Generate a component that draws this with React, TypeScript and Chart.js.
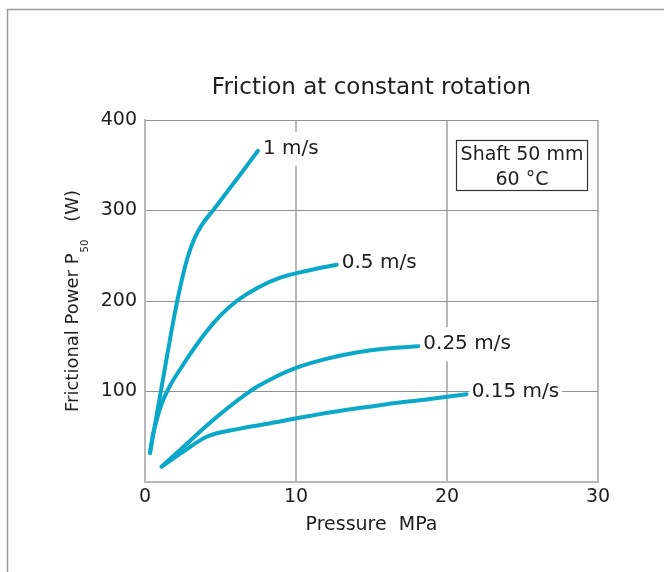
import React, { useEffect, useRef } from "react";
import { Chart, registerables } from "chart.js";

Chart.register(...registerables);

const FONT = '"DejaVu Sans", sans-serif';
const TEXT = "#1e1e1e";
const LINE = "#0aa8c8";

const chartTitle = "Friction at constant rotation";
const xTitle = "Pressure  MPa";
const yTitleMain = "Frictional Power P";
const yTitleSub = "50";
const yTitleUnit = "(W)";
const boxLines = ["Shaft 50 mm", "60 °C"];

const seriesLabels = ["1 m/s", "0.5 m/s", "0.25 m/s", "0.15 m/s"];

const pressure1 = [0.33, 0.7, 1.1, 1.5, 1.9, 2.3, 2.8, 3.3, 3.8, 4.5, 5.5, 6.5, 7.48];
const power1 = [32, 67, 105, 143, 180, 213, 247, 270, 285, 300, 322, 344, 366];

const pressure05 = [0.33, 0.5, 0.75, 1.1, 1.55, 2.5, 3.97, 5.0, 6.07, 7.5, 9.0, 10.9, 12.7];
const power05 = [32, 50, 67, 86, 103, 129, 164, 184, 200, 215, 226, 234, 240];

const pressure025 = [1.1, 2.5, 4.0, 5.5, 6.6, 7.5, 8.5, 10.0, 12.0, 14.0, 16.0, 18.1];
const power025 = [17, 38, 61, 82, 96, 106, 115, 126, 136, 143, 147.5, 150];

const pressure015 = [1.1, 2.54, 4.08, 6.29, 8.0, 10.9, 13.5, 16.0, 18.5, 21.3];
const power015 = [17, 33.5, 50, 59, 64, 73, 80, 86, 91, 97];

const xMin = 0, xMax = 30, xStep = 10;
const yMin = 0, yMax = 400, yStep = 100;

const toPoints = (xs: number[], ys: number[]) => xs.map((x, i) => ({ x, y: ys[i] }));

const annotationPlugin = {
  id: "annotations",
  beforeDraw(chart: any) {
    const ctx = chart.ctx;
    ctx.save();
    ctx.strokeStyle = "#9a9a9a";
    ctx.lineWidth = 1.5;
    ctx.beginPath();
    ctx.moveTo(7.5, chart.height);
    ctx.lineTo(7.5, 9.5);
    ctx.lineTo(chart.width, 9.5);
    ctx.stroke();
    ctx.restore();
  },
  afterDatasetsDraw(chart: any) {
    const ctx = chart.ctx;
    const area = chart.chartArea;
    ctx.save();
    // series labels
    ctx.font = `20px ${FONT}`;
    ctx.textBaseline = "middle";
    ctx.textAlign = "left";
    chart.data.datasets.forEach((ds: any, i: number) => {
      const meta = chart.getDatasetMeta(i);
      const pt = meta.data[meta.data.length - 1];
      const tx = pt.x + 5;
      const ty = pt.y - 2;
      const w = ctx.measureText(ds.label).width;
      ctx.fillStyle = "#ffffff";
      ctx.fillRect(tx - 2, ty - 17, w + 5, 34);
      ctx.fillStyle = TEXT;
      ctx.fillText(ds.label, tx, ty);
    });

    // info box
    const bx = 456.5, by = 140.5, bw = 131, bh = 50;
    ctx.fillStyle = "#ffffff";
    ctx.fillRect(bx, by, bw, bh);
    ctx.strokeStyle = "#333333";
    ctx.lineWidth = 1.2;
    ctx.strokeRect(bx, by, bw, bh);
    ctx.fillStyle = TEXT;
    ctx.font = `19px ${FONT}`;
    ctx.textAlign = "center";
    ctx.textBaseline = "alphabetic";
    ctx.fillText(boxLines[0], bx + bw / 2, 160);
    ctx.fillText(boxLines[1], bx + bw / 2, 185);

    // chart title
    const cx = (area.left + area.right) / 2;
    ctx.font = `23px ${FONT}`;
    ctx.fillText(chartTitle, cx, 94);

    // x axis title
    ctx.font = `19px ${FONT}`;
    ctx.fillText(xTitle, cx, 530);

    // y axis title with subscript
    ctx.translate(78, 412);
    ctx.rotate(-Math.PI / 2);
    ctx.textAlign = "left";
    ctx.font = `18px ${FONT}`;
    ctx.fillText(yTitleMain, 0, 0);
    const w1 = ctx.measureText(yTitleMain).width;
    ctx.font = `10px ${FONT}`;
    ctx.fillText(yTitleSub, w1 + 1, 10);
    const w2 = ctx.measureText(yTitleSub).width;
    ctx.font = `18px ${FONT}`;
    ctx.fillText(yTitleUnit, w1 + 1 + w2 + 18, 0);
    ctx.restore();
  },
};

export default function App() {
  const ref = useRef<HTMLCanvasElement | null>(null);

  useEffect(() => {
    if (!ref.current) return;
    const mk = (label: string, xs: number[], ys: number[]) => ({
      label,
      data: toPoints(xs, ys),
      borderColor: LINE,
      backgroundColor: LINE,
      borderWidth: 4,
      pointRadius: 0,
      fill: false,
      cubicInterpolationMode: "monotone" as const,
      borderCapStyle: "round" as const,
      borderJoinStyle: "round" as const,
    });
    const chart = new Chart(ref.current, {
      type: "line",
      data: {
        datasets: [
          mk(seriesLabels[0], pressure1, power1),
          mk(seriesLabels[1], pressure05, power05),
          mk(seriesLabels[2], pressure025, power025),
          mk(seriesLabels[3], pressure015, power015),
        ],
      },
      options: {
        animation: false,
        responsive: false,
        layout: { padding: { left: 0, right: 66, top: 120, bottom: 0 } },
        plugins: {
          legend: { display: false },
          title: { display: false },
          tooltip: { enabled: false },
        },
        scales: {
          x: {
            type: "linear",
            min: xMin,
            max: xMax,
            afterFit: (s: any) => {
              s.height = 90;
            },
            ticks: {
              stepSize: xStep,
              padding: 4,
              color: TEXT,
              font: { family: FONT, size: 19 },
            },
            grid: { color: "#b8b8b8", lineWidth: 2, drawTicks: false },
            border: { display: true, color: "#b8b8b8", width: 2 },
          },
          y: {
            type: "linear",
            min: yMin,
            max: yMax,
            afterFit: (s: any) => {
              s.width = 145;
            },
            ticks: {
              stepSize: yStep,
              padding: 8,
              color: TEXT,
              font: { family: FONT, size: 19 },
              callback: (v: any) => (v === 0 ? "" : String(v)),
            },
            grid: { color: "#909090", lineWidth: 1, drawTicks: false },
            border: { display: true, color: "#b8b8b8", width: 2 },
          },
        },
      },
      plugins: [annotationPlugin],
    });
    return () => chart.destroy();
  }, []);

  return (
    <canvas
      ref={ref}
      width={664}
      height={572}
      style={{ position: "fixed", left: 0, top: 0, width: 664, height: 572, background: "#fff" }}
    />
  );
}
